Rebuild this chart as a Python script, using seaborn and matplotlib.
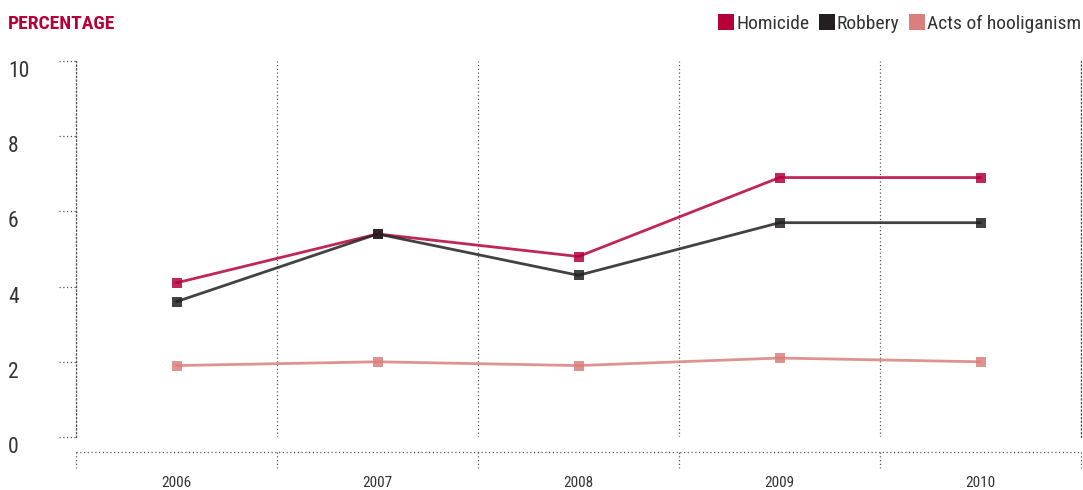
import matplotlib
matplotlib.use("Agg")
import matplotlib.pyplot as plt
import matplotlib.transforms as mtransforms
from matplotlib.lines import Line2D
import seaborn as sns
import pandas as pd
from matplotlib import font_manager

years = ["2006", "2007", "2008", "2009", "2010"]
homicide = [4.1, 5.4, 4.8, 6.9, 6.9]
robbery = [3.6, 5.4, 4.3, 5.7, 5.7]
hooliganism = [1.9, 2.0, 1.9, 2.1, 2.0]
series_names = ["Homicide", "Robbery", "Acts of hooliganism"]
colors = ["#B5003A", "#231F20", "#D9807C"]
y_ticks = [0, 2, 4, 6, 8, 10]

sns.set_theme(style="white")
avail = {f.name for f in font_manager.fontManager.ttflist}
fam = "DejaVu Sans"
for cand in ["Roboto Condensed", "Barlow Semi Condensed", "Asap Condensed", "Archivo Narrow"]:
    if cand in avail:
        fam = cand
        break
plt.rcParams["font.family"] = [fam, "DejaVu Sans"]

df = pd.DataFrame({
    "year": years * 3,
    "value": homicide + robbery + hooliganism,
    "series": [s for s in series_names for _ in years],
})

W, H = 1083, 490
fig = plt.figure(figsize=(W / 100, H / 100), dpi=100)
ax = fig.add_axes([76 / W, (H - 437) / H, (1081 - 76) / W, (437 - 61) / H])

sns.lineplot(data=df, x="year", y="value", hue="series", hue_order=series_names,
             palette=colors, marker="s", markersize=6.5, markeredgewidth=0,
             linewidth=2.0, dashes=False, ax=ax, legend=False, sort=False)
for ln in ax.lines:
    ln.set_alpha(0.85)

ax.set_xlim(-0.5, 4.5)
ax.set_ylim(0, 10)
ax.set_xlabel("")
ax.set_ylabel("")

# x ticks
ax.set_xticks(range(len(years)))
ax.set_xticklabels(years, fontsize=11, color="#333333")
ax.set_xticks([i - 0.5 for i in range(len(years) + 1)], minor=True)
ax.tick_params(axis="x", which="major", length=0, pad=28)
ax.tick_params(axis="x", which="minor", length=0)
ax.grid(False)
ax.grid(which="minor", axis="x", linestyle=(0, (1, 2)), color="#555555", linewidth=0.9)

# y ticks
ax.set_yticks(y_ticks)
ax.set_yticklabels([str(v) for v in y_ticks], fontsize=15.5, color="#333333")
ax.tick_params(axis="y", length=0, pad=49)
for lab in ax.get_yticklabels():
    lab.set_horizontalalignment("left")
    lab.set_verticalalignment("top")

ax.spines["top"].set_visible(False)
ax.spines["bottom"].set_visible(False)
for s in ["left", "right"]:
    ax.spines[s].set_linestyle((0, (1, 2)))
    ax.spines[s].set_color("#555555")
    ax.spines[s].set_linewidth(0.9)

# dotted y tick stubs
tr = mtransforms.blended_transform_factory(ax.transAxes, ax.transData)
for v in y_ticks:
    ax.add_line(Line2D([-17 / 1005, 0], [v, v], transform=tr, clip_on=False,
                       linestyle=(0, (1, 2)), color="#555555", linewidth=0.9))

# offset dotted x axis line with stubs
trx = mtransforms.blended_transform_factory(ax.transData, fig.transFigure)
ax.add_line(Line2D([-0.5, 4.5], [(H - 452) / H] * 2, transform=trx, clip_on=False,
                   linestyle=(0, (1, 2)), color="#555555", linewidth=0.9))
for i in range(len(years) + 1):
    ax.add_line(Line2D([i - 0.5, i - 0.5], [(H - 452) / H, (H - 468) / H], transform=trx,
                       clip_on=False, linestyle=(0, (1, 2)), color="#555555", linewidth=0.9))

# title
fig.text(8 / W, 1 - 24 / H, "PERCENTAGE", fontsize=14, fontweight="bold",
         color="#B5003A", ha="left", va="center")

# legend
handles = [Line2D([], [], marker="s", linestyle="", markersize=12, color=c, markeredgewidth=0)
           for c in colors]
fig.legend(handles, series_names, loc="center right", bbox_to_anchor=(1081 / W, 1 - 24 / H),
           ncol=3, frameon=False, fontsize=14, handletextpad=0.1, columnspacing=0.45,
           handlelength=0.85, borderpad=0, borderaxespad=0, labelcolor="#333333")

fig.savefig("out.png", dpi=100)
